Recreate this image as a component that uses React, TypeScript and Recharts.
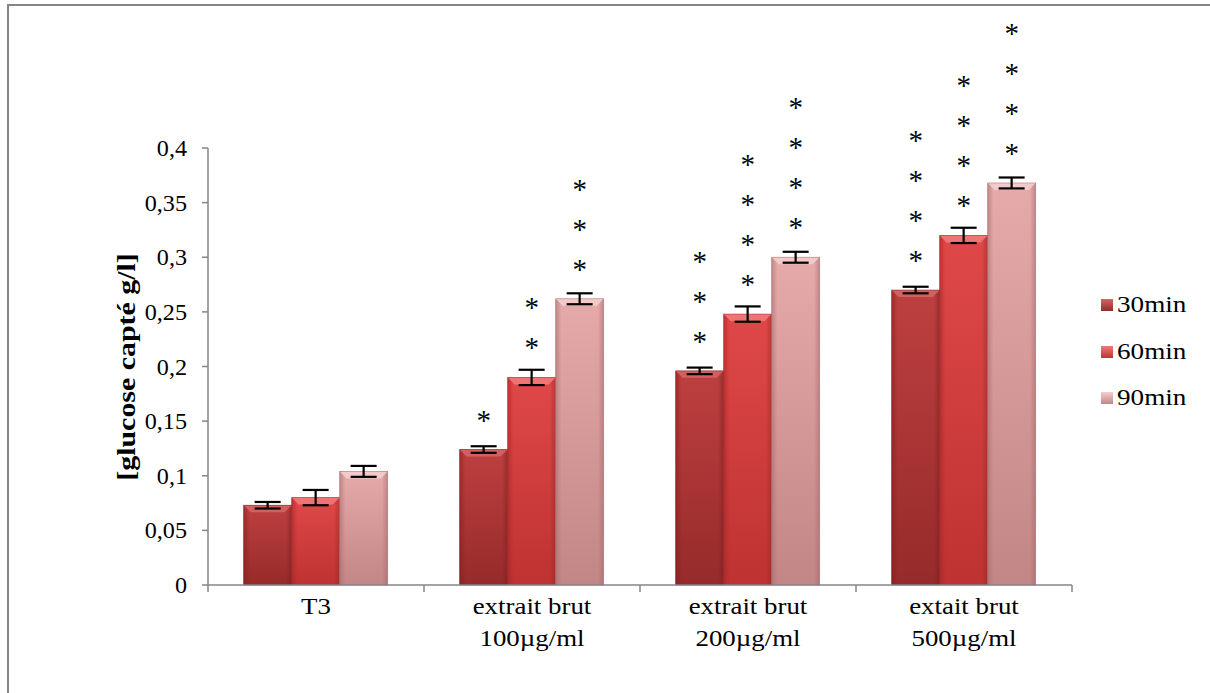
import React from "react";
import { BarChart, Bar, XAxis, YAxis, ErrorBar, LabelList, Label } from "recharts";

const categories = ["T3", "extrait brut\n100µg/ml", "extrait brut\n200µg/ml", "extait brut\n500µg/ml"];
const values30 = [0.073, 0.124, 0.196, 0.27];
const values60 = [0.08, 0.19, 0.248, 0.32];
const values90 = [0.104, 0.262, 0.3, 0.368];
const err30 = [0.003, 0.003, 0.003, 0.003];
const err60 = [0.007, 0.007, 0.007, 0.007];
const err90 = [0.005, 0.005, 0.005, 0.005];
const stars30 = [0, 1, 3, 4];
const stars60 = [0, 2, 4, 4];
const stars90 = [0, 3, 4, 4];
const yTicks = [0, 0.05, 0.1, 0.15, 0.2, 0.25, 0.3, 0.35, 0.4];
const seriesNames = ["30min", "60min", "90min"];

const data = categories.map((c, i) => ({
  cat: c,
  v30: values30[i],
  v60: values60[i],
  v90: values90[i],
  e30: err30[i],
  e60: err60[i],
  e90: err90[i],
  s30: stars30[i],
  s60: stars60[i],
  s90: stars90[i],
}));

const W = 1210;
const H = 693;
const X_AXIS_H = 108;
const Y_AXIS_W = 208;
const M = { top: 148, right: 138, bottom: 0, left: 0 };
const BAND = (W - M.left - M.right - Y_AXIS_W) / categories.length;
const FONT = "'Liberation Serif', 'Times New Roman', serif";
const AXIS = "#868686";

const palette = [
  { id: "g30", top: "#BE4040", bottom: "#962A2A", edge: "#7C1E1E", bevel: "#D46464" },
  { id: "g60", top: "#E04848", bottom: "#BE3232", edge: "#9C2424", bevel: "#EE7A7A" },
  { id: "g90", top: "#E6AAAA", bottom: "#C28686", edge: "#A26868", bevel: "#F4CDCD" },
];

const makeShape = (p: typeof palette[number]) => (props: any) => {
  const { x, y, width, height } = props;
  if (!height || height <= 0) return <g />;
  const b = Math.min(7, height / 2);
  return (
    <g>
      <rect x={x} y={y} width={width} height={height} fill={`url(#${p.id})`} />
      <rect x={x} y={y} width={width} height={height} fill={`url(#${p.id}h)`} />
      <polygon
        points={`${x},${y} ${x + width},${y} ${x + width - b},${y + b} ${x + b},${y + b}`}
        fill={p.bevel}
        opacity={0.9}
      />
      <rect x={x} y={y} width={width} height={height} fill="none" stroke={p.edge} strokeWidth={0.8} strokeOpacity={0.6} />
    </g>
  );
};

const makeStars = (key: string) => (props: any) => {
  const { x, y, width, value } = props;
  const n = Number(value) || 0;
  const cx = Number(x) + Number(width) / 2;
  const out = [];
  for (let i = 0; i < n; i++) {
    const cy = Number(y) - 33 - i * 40;
    out.push(
      <text
        key={`${key}-${i}`}
        x={cx}
        y={cy + 13}
        textAnchor="middle"
        fontFamily={FONT}
        fontSize={29}
        fill="#000"
      >
        *
      </text>
    );
  }
  return <g>{out}</g>;
};

const XTick = (props: any) => {
  const { x, y, payload, index } = props;
  const lines = String(payload.value).split("\n");
  const half = BAND / 2;
  return (
    <g>
      <line x1={x - half} y1={y - 8} x2={x - half} y2={y - 1} stroke={AXIS} strokeWidth={1.5} />
      {index === categories.length - 1 && (
        <line x1={x + half} y1={y - 8} x2={x + half} y2={y - 1} stroke={AXIS} strokeWidth={1.5} />
      )}
      {lines.map((l, i) => (
        <g key={i} transform={`translate(${x},${y + 21 + i * 32}) scale(1.12,1)`}>
          <text x={0} y={0} textAnchor="middle" fontFamily={FONT} fontSize={24} fill="#000">
            {l}
          </text>
        </g>
      ))}
    </g>
  );
};

const Y_LABEL_GAP = 13;

const YTick = (props: any) => {
  const { x, y, payload } = props;
  return (
    <g transform={`translate(${x - Y_LABEL_GAP},${y + 8}) scale(1.05,1)`}>
      <text x={0} y={0} textAnchor="end" fontFamily={FONT} fontSize={23} fill="#000">
        {String(payload.value).replace(".", ",")}
      </text>
    </g>
  );
};

const LegendBox = () => (
  <div
    style={{
      position: "absolute",
      left: 1101,
      top: 282,
      fontFamily: FONT,
      fontSize: 23,
      color: "#000",
    }}
  >
    {seriesNames.map((n, i) => (
      <div key={n} style={{ display: "flex", alignItems: "center", height: 46.5 }}>
        <span
          style={{
            display: "inline-block",
            width: 12,
            height: 12,
            marginRight: 4,
            background: `linear-gradient(${palette[i].bevel}, ${palette[i].bottom})`,
          }}
        />
        <span style={{ display: "inline-block", transform: "scaleX(1.18)", transformOrigin: "left center" }}>{n}</span>
      </div>
    ))}
  </div>
);

export default function App() {
  return (
    <div style={{ position: "absolute", left: 0, top: 0, width: W, height: H, background: "#fff" }}>
      <div
        style={{
          position: "absolute",
          left: 7,
          top: 4,
          width: W - 7,
          height: H - 4,
          borderTop: `2px solid #858585`,
          borderLeft: `2px solid #858585`,
          boxSizing: "border-box",
        }}
      />
      <BarChart
        width={W}
        height={H}
        data={data}
        margin={M}
        barCategoryGap="16.5%"
        barGap={0}
        style={{ position: "absolute", left: 0, top: 0 }}
      >
        <defs>
          {palette.map((p) => (
            <linearGradient key={p.id} id={p.id} x1="0" y1="0" x2="0" y2="1">
              <stop offset="0%" stopColor={p.top} />
              <stop offset="100%" stopColor={p.bottom} />
            </linearGradient>
          ))}
          {palette.map((p) => (
            <linearGradient key={p.id + "h"} id={p.id + "h"} x1="0" y1="0" x2="1" y2="0">
              <stop offset="0%" stopColor={p.edge} stopOpacity={0.55} />
              <stop offset="12%" stopColor={p.edge} stopOpacity={0} />
              <stop offset="88%" stopColor={p.edge} stopOpacity={0} />
              <stop offset="100%" stopColor={p.edge} stopOpacity={0.55} />
            </linearGradient>
          ))}
        </defs>
        <XAxis
          dataKey="cat"
          interval={0}
          tickLine={false}
          axisLine={{ stroke: AXIS, strokeWidth: 1.5 }}
          tick={<XTick />}
          height={X_AXIS_H}
        />
        <YAxis
          domain={[0, 0.4]}
          ticks={yTicks}
          interval={0}
          width={Y_AXIS_W}
          tickSize={6}
          tickLine={{ stroke: AXIS, strokeWidth: 1.5 }}
          axisLine={{ stroke: AXIS, strokeWidth: 1.5 }}
          tick={<YTick />}
        >
          <Label
            content={() => (
              <g transform="translate(135 367) rotate(-90) scale(1.15 1)">
                <text
                  x={0}
                  y={0}
                  textAnchor="middle"
                  fontFamily={FONT}
                  fontWeight="bold"
                  fontSize={26}
                  fill="#000"
                >
                  [glucose capté g/l]
                </text>
              </g>
            )}
          />
        </YAxis>
        <Bar dataKey="v30" name={seriesNames[0]} isAnimationActive={false} shape={makeShape(palette[0])}>
          <ErrorBar dataKey="e30" width={13} stroke="#000" strokeWidth={2.2} />
          <LabelList dataKey="s30" content={makeStars("a")} />
        </Bar>
        <Bar dataKey="v60" name={seriesNames[1]} isAnimationActive={false} shape={makeShape(palette[1])}>
          <ErrorBar dataKey="e60" width={13} stroke="#000" strokeWidth={2.2} />
          <LabelList dataKey="s60" content={makeStars("b")} />
        </Bar>
        <Bar dataKey="v90" name={seriesNames[2]} isAnimationActive={false} shape={makeShape(palette[2])}>
          <ErrorBar dataKey="e90" width={13} stroke="#000" strokeWidth={2.2} />
          <LabelList dataKey="s90" content={makeStars("c")} />
        </Bar>
      </BarChart>
      <LegendBox />
    </div>
  );
}
